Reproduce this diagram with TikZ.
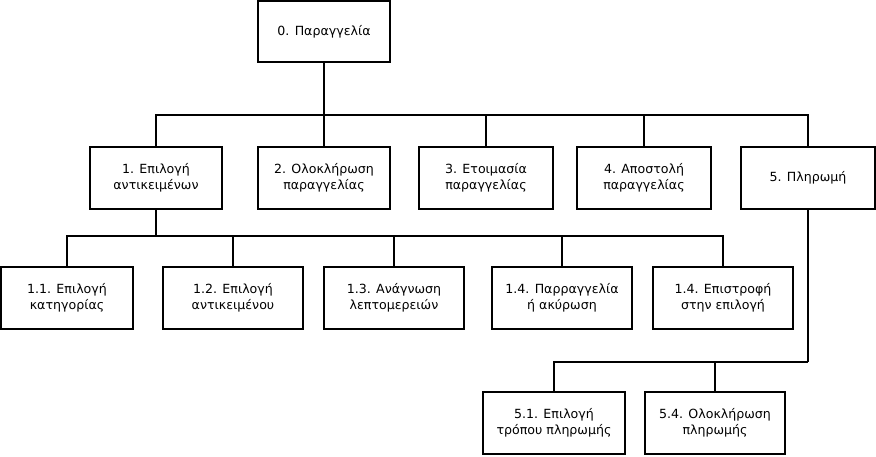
\documentclass[tikz,border=0pt]{standalone}
\usepackage{fontspec}
\setmainfont{DejaVu Sans}
\begin{document}
\begin{tikzpicture}[x=1pt,y=-1pt,
  box/.style={draw, line width=1.6pt, minimum height=62pt, inner sep=0pt, align=center,
    font=\fontsize{12.6}{16.5}\selectfont},
  conn/.style={line width=1.6pt}]
\useasboundingbox (0,0) rectangle (876,456);
% level 0
\node[box, minimum width=132pt, minimum height=61pt] (n0) at (324,31.5) {0. Παραγγελία};
% level 1
\node[box, minimum width=132pt] (n1) at (156,178) {1. Επιλογή\\αντικειμένων};
\node[box, minimum width=132pt] (n2) at (324,178) {2. Ολοκλήρωση\\παραγγελίας};
\node[box, minimum width=134pt] (n3) at (486,178) {3. Ετοιμασία\\παραγγελίας};
\node[box, minimum width=134pt] (n4) at (644,178) {4. Αποστολή\\παραγγελίας};
\node[box, minimum width=134pt] (n5) at (808,178) {5. Πληρωμή};
% level 2
\node[box, minimum width=132pt] (n11) at (67,298) {1.1. Επιλογή\\κατηγορίας};
\node[box, minimum width=140pt] (n12) at (233,298) {1.2. Επιλογή\\αντικειμένου};
\node[box, minimum width=140pt] (n13) at (394,298) {1.3. Ανάγνωση\\λεπτομερειών};
\node[box, minimum width=140pt] (n14) at (562,298) {1.4. Παρραγγελία\\ή ακύρωση};
\node[box, minimum width=140pt] (n15) at (723,298) {1.4. Επιστροφή\\στην επιλογή};
% level 3
\node[box, minimum width=142pt] (n51) at (554,423) {5.1. Επιλογή\\τρόπου πληρωμής};
\node[box, minimum width=140pt] (n54) at (715,423) {5.4. Ολοκλήρωση\\πληρωμής};
% buses
\coordinate (b0) at (324,115);
\coordinate (b1) at (156,236);
\coordinate (b5) at (808,362);
% connectors level 0 -> 1
\draw[conn] (n0.south) -- (b0);
\draw[conn] (n1.north) |- (b0) -| (n5.north);
\draw[conn] (n2.north) -- (n2.north |- b0);
\draw[conn] (n3.north) -- (n3.north |- b0);
\draw[conn] (n4.north) -- (n4.north |- b0);
% connectors 1 -> 1.x
\draw[conn] (n1.south) -- (b1);
\draw[conn] (n11.north) |- (b1) -| (n15.north);
\draw[conn] (n12.north) -- (n12.north |- b1);
\draw[conn] (n13.north) -- (n13.north |- b1);
\draw[conn] (n14.north) -- (n14.north |- b1);
% connectors 5 -> 5.x
\draw[conn] (n5.south) -- (b5);
\draw[conn] (n51.north) |- (b5);
\draw[conn] (n54.north) -- (n54.north |- b5);
\end{tikzpicture}
\end{document}
